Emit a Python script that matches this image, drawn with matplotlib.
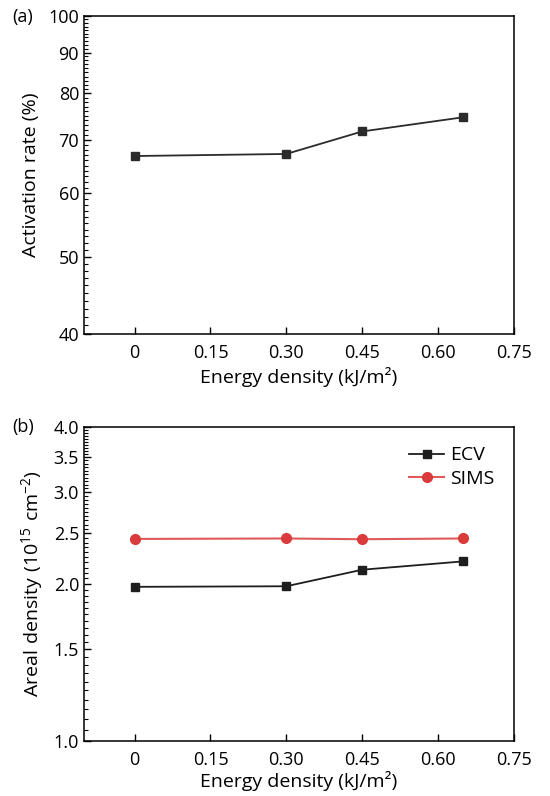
import matplotlib
matplotlib.use("Agg")
import matplotlib.pyplot as plt
from matplotlib.ticker import FixedLocator, NullFormatter, NullLocator

plt.rcParams['font.family'] = ['Open Sans', 'DejaVu Sans']
plt.rcParams['mathtext.fontset'] = 'custom'
plt.rcParams['mathtext.rm'] = 'Open Sans'

energy = [0.0, 0.30, 0.45, 0.65]
activation_rate = [66.8, 67.2, 71.7, 74.7]
ecv = [1.975, 1.98, 2.13, 2.21]
sims = [2.44, 2.445, 2.437, 2.445]

xticks = [0, 0.15, 0.30, 0.45, 0.60, 0.75]
xticklabels = ['0', '0.15', '0.30', '0.45', '0.60', '0.75']
a_yticks = [40, 50, 60, 70, 80, 90, 100]
b_yticks = [1.0, 1.5, 2.0, 2.5, 3.0, 3.5, 4.0]

fig = plt.figure(figsize=(5.5, 7.96), dpi=100)
axa = fig.add_axes([0.1527, 0.5804, 0.7818, 0.3995])
axb = fig.add_axes([0.1527, 0.0691, 0.7818, 0.3945])

fs = 13
lfs = 14
for ax in (axa, axb):
    ax.set_yscale('log')
    ax.set_xlim(-0.1, 0.75)
    ax.set_xticks(xticks)
    ax.set_xticklabels(xticklabels)
    ax.xaxis.set_minor_locator(NullLocator())
    ax.tick_params(axis='both', which='both', direction='in', top=False, right=False, labelsize=fs)
    ax.tick_params(axis='both', which='major', length=5, width=1)
    ax.tick_params(axis='y', which='minor', length=3, width=0.8)
    ax.tick_params(axis='x', pad=7)
    for s in ax.spines.values():
        s.set_linewidth(1.1)

axa.set_xlabel('Energy density (kJ/m²)', fontsize=lfs, labelpad=4)
axb.set_xlabel('Energy density (kJ/m²)', fontsize=lfs, labelpad=2)

# Panel a
axa.plot(energy, activation_rate, '-s', color='#2b2b2b', lw=1.3, ms=6)
axa.set_ylim(40, 100)
axa.yaxis.set_major_locator(FixedLocator(a_yticks))
axa.set_yticklabels([str(v) for v in a_yticks])
axa.yaxis.set_minor_locator(FixedLocator([v for v in range(40, 101) if v % 10]))
axa.yaxis.set_minor_formatter(NullFormatter())
axa.set_ylabel('Activation rate (%)', fontsize=lfs, labelpad=6)
fig.text(0.022, 0.979, '(a)', fontsize=fs, va='center', ha='left')

# Panel b
axb.plot(energy, ecv, '-s', color='#1e1e1e', lw=1.3, ms=6, label='ECV')
axb.plot(energy, sims, '-o', color='#e05a5a', mfc='#d93a3a', mec='#d93a3a', lw=1.5, ms=7, label='SIMS')
axb.set_ylim(1.0, 4.0)
axb.yaxis.set_major_locator(FixedLocator(b_yticks))
axb.set_yticklabels(['%.1f' % v for v in b_yticks])
minor_b = [round(1.0 + 0.05 * i, 2) for i in range(61)]
axb.yaxis.set_minor_locator(FixedLocator([v for v in minor_b if round(v * 2, 4) % 1 != 0]))
axb.yaxis.set_minor_formatter(NullFormatter())
axb.set_ylabel(r'$\mathregular{Areal\ density\ (10^{15}\ cm^{-2})}$', fontsize=lfs, labelpad=6)
axb.legend(loc='upper right', frameon=False, fontsize=lfs, handlelength=1.8,
           handletextpad=0.3, borderaxespad=0.6, labelspacing=0.3)
fig.text(0.022, 0.4636, '(b)', fontsize=fs, va='center', ha='left')

fig.savefig('out.png', dpi=100)
